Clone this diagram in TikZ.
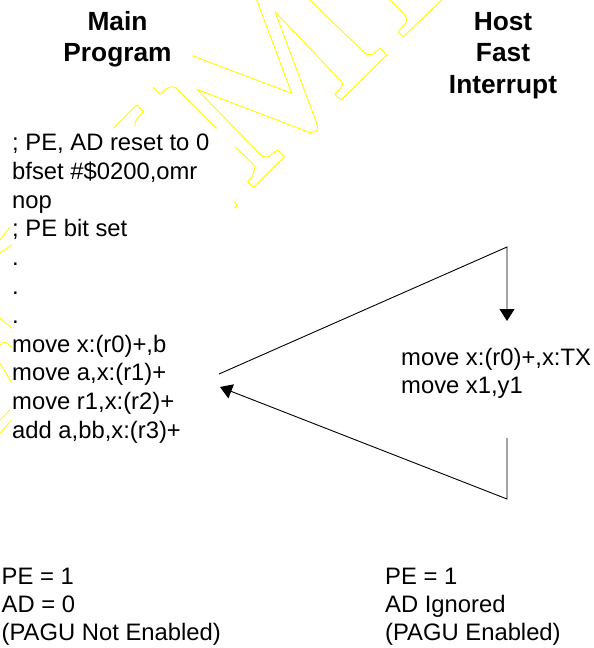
\documentclass[tikz,border=0pt]{standalone}
\usepackage{fontspec}
\setmainfont{Liberation Sans}
\usepackage{xcolor}
\usepackage{tikz}
\usetikzlibrary{arrows.meta}
\definecolor{figline}{RGB}{0,0,0}
\definecolor{figwmark}{RGB}{255,250,0}
\tikzset{
  hd/.style  ={font=\fontsize{26.3}{31.7}\selectfont\bfseries, align=center, inner sep=0pt, anchor=base},
  cd/.style  ={font=\fontsize{23.8}{#1}\selectfont, align=left, inner sep=0pt, anchor=base west},
  cd/.default=28.8,
  wm/.style  ={draw=figwmark, line width=0.9pt, line join=round},
  ptr/.style ={draw=figline, line width=0.9pt, -{Triangle[length=12pt,width=15pt]}},
}

\begin{document}
\begin{tikzpicture}[x=1pt,y=-1pt]
  \useasboundingbox (0,0) rectangle (594,648);
  % watermark, outline letters
  \draw[wm] (192.3,55.7) -- (291.7,93.3) -- (256.7,0);
  \draw[wm] (235,146.7) -- (253,164) .. controls (255,168) .. (252.7,175.7) -- (247.7,181.7)
    -- (253.3,187.3) -- (284.3,156.7) -- (277.7,150) .. controls (272,154) .. (268.3,156.7)
    .. controls (263,157) .. (260,154) -- (196.7,89.3) -- (310,132.7)
    .. controls (318,131) .. (317.3,125) -- (275,11.7) -- (338,78)
    .. controls (343,83) .. (341.7,86.7) -- (335,94.3) -- (341,100) -- (386.7,55)
    -- (380,48.3) -- (373,54) .. controls (368,55) .. (365,53.3) -- (310,0);
  \draw[wm] (390,0) -- (403,13) .. controls (408,19) .. (405,24) -- (398.3,31.7)
    -- (403.3,36.7) -- (441.7,0);
  \draw[wm] (430,11.7) -- (433,8.3);
  \draw[wm] (153.3,87.3) -- (160,94.3) -- (166,89) .. controls (170,86) and (174,86) .. (177,89)
    -- (216.7,128.3);
  \draw[wm] (113.3,128.3) -- (136.7,105) -- (143.3,111.7) -- (137.7,118)
    .. controls (135,122) .. (135,126.7);
  \draw[wm] (234.3,201.7) -- (237.3,205) -- (234.3,208.3);
  \draw[wm] (0,240) -- (10,227);
  \draw[wm] (0,253) -- (11.7,245);
  \draw[wm] (0,318) -- (11.7,328);
  \draw[wm] (0,345) .. controls (5,341) .. (11.7,347);
  \draw[wm] (0,363) -- (11.7,383);
  \draw[wm] (0,420) -- (10,410);
  \draw[wm] (0,433) -- (11.7,420);

  % column heads (placed by last baseline)
  \node[hd] (mainhd) at (117.5,61.7) {Main\\Program};
  \node[hd] (hosthd) at (503,93.4) {Host\\Fast\\Interrupt};

  % code
  \node[cd] (mainpg) at (12,438.4) {; PE, AD reset to 0\\bfset \#\$0200,omr\\nop\\; PE bit set\\.\\.\\.\\
    move x:(r0)+,b\\move a,x:(r1)+\\move r1,x:(r2)+\\add a,bb,x:(r3)+};
  \node[cd=28.3] (isr) at (401,393.3) {move x:(r0)+,x:TX\\move x1,y1};

  % status
  \node[cd=27.6] (mainst) at (1.5,640) {PE = 1\\AD = 0\\(PAGU Not Enabled)};
  \node[cd=27.6] (isrst) at (385,640) {PE = 1\\AD Ignored\\(PAGU Enabled)};

  % jump in / return
  \coordinate (jmp) at (219,374);
  \coordinate (ret) at (220,387);
  \coordinate (vtop) at (507,247);
  \coordinate (vbot) at (507,499);
  \coordinate (isrin) at (507,321);
  \coordinate (isrout) at (507,438);
  \draw[ptr] (jmp) -- (vtop) -- (isrin);
  \draw[ptr] (isrout) -- (vbot) -- (ret);
\end{tikzpicture}
\end{document}
